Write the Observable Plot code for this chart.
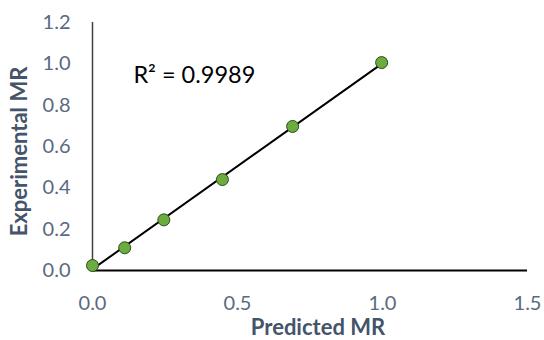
<!DOCTYPE html>
<html>
<head>
<meta charset="utf-8">
<script src="https://cdn.jsdelivr.net/npm/d3@7"></script>
<script src="https://cdn.jsdelivr.net/npm/@observablehq/plot@0.6"></script>
<style>
  html, body { margin: 0; padding: 0; background: #fff; }
  #chart svg { display: block; }
</style>
</head>
<body>
<div id="chart"></div>
<script>
// Data
const predicted = [0.0, 0.111, 0.246, 0.448, 0.690, 0.997];
const experimental = [0.024, 0.110, 0.245, 0.440, 0.697, 1.006];
const xTicks = [0, 0.5, 1.0, 1.5];
const yTicks = [0, 0.2, 0.4, 0.6, 0.8, 1.0, 1.2];
const r2Label = ["R\u00b2 = 0.9989"];
const xTitle = "Predicted MR";
const yTitle = "Experimental MR";

const rows = predicted.map((p, i) => ({predicted: p, experimental: experimental[i]}));

const font = "Lato, 'Open Sans', sans-serif";
const tickColor = "#5a6a80";
const titleColor = "#44546a";

const chart = Plot.plot({
  width: 544,
  height: 340,
  marginLeft: 92,
  marginRight: 17,
  marginTop: 22,
  marginBottom: 70,
  style: {fontFamily: font, background: "#fff"},
  x: {domain: [0, 1.5]},
  y: {domain: [0, 1.2]},
  marks: [
    Plot.axisY({ticks: yTicks, tickFormat: d3.format(".1f"), tickSize: 0, tickPadding: 22,
      fontSize: 20, fill: tickColor, label: null}),
    Plot.axisX({ticks: xTicks, tickFormat: d3.format(".1f"), tickSize: 0, tickPadding: 25,
      fontSize: 20, fill: tickColor, label: null}),
    Plot.text([yTitle], {frameAnchor: "left", textAnchor: "middle", dx: -73, dy: 5, rotate: -90,
      fontSize: 22, fontWeight: "bold", fill: titleColor, text: d => d}),
    Plot.text([xTitle], {frameAnchor: "bottom", textAnchor: "middle", lineAnchor: "bottom", dy: 64, dx: 8,
      fontSize: 22, fontWeight: "bold", fill: titleColor, text: d => d}),
    Plot.ruleX([0], {stroke: "#404040", strokeWidth: 1.5}),
    Plot.ruleY([0], {stroke: "#000", strokeWidth: 2}),
    Plot.linearRegressionY(rows, {x: "predicted", y: "experimental", ci: 0, stroke: "#000", strokeWidth: 2}),
    Plot.dot(rows, {x: "predicted", y: "experimental", r: 6, fill: "#6aac3e", stroke: "#2f4a1c", strokeWidth: 1}),
    Plot.text(r2Label, {x: 0.141, y: 0.945, textAnchor: "start", fontSize: 23.5, fill: "#000", text: d => d})
  ]
});
document.getElementById("chart").appendChild(chart);
</script>
</body>
</html>
